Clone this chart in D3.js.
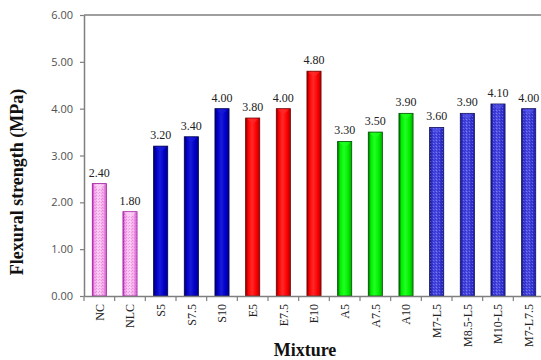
<!DOCTYPE html>
<html>
<head>
<meta charset="utf-8">
<script src="https://cdn.jsdelivr.net/npm/d3@7"></script>
<style>
  html, body { margin: 0; padding: 0; background: #fff; }
  svg { display: block; }
  .serif { font-family: "Liberation Serif", "Times New Roman", serif; }
  .sans { font-family: "Open Sans", sans-serif; }
</style>
</head>
<body>
<svg id="chart" width="541" height="360"></svg>
<script>
// Mixture designations, flexural strength (MPa) and the group each mixture belongs to
const categories = ["NC", "NLC", "S5", "S7.5", "S10", "E5", "E7.5", "E10", "A5", "A7.5", "A10", "M7-L5", "M8.5-L5", "M10-L5", "M7-L7.5"];
const strengths = [2.40, 1.80, 3.20, 3.40, 4.00, 3.80, 4.00, 4.80, 3.30, 3.50, 3.90, 3.60, 3.90, 4.10, 4.00];
const groups = ["ctrl", "ctrl", "S", "S", "S", "E", "E", "E", "A", "A", "A", "M", "M", "M", "M"];
const yTicks = [0, 1, 2, 3, 4, 5, 6];

// Shading per group: edge, body, highlight, and an optional speckle texture
const groupStyle = {
  ctrl: { edge: "#b01ab0", dark: "#d060c8", mid: "#f7a8ec", light: "#fbd0f4", texture: "#e070d8", stroke: "#a020a0" },
  S:    { edge: "#000060", dark: "#00008a", mid: "#0000c8", light: "#1a1ad8", texture: null, stroke: "#000050" },
  E:    { edge: "#800000", dark: "#b00000", mid: "#ff0000", light: "#ff2a2a", texture: null, stroke: "#700000" },
  A:    { edge: "#006000", dark: "#00a800", mid: "#00ee00", light: "#22ff22", texture: null, stroke: "#005000" },
  M:    { edge: "#141470", dark: "#2020a8", mid: "#3a3ad8", light: "#5252e6", texture: "#1c1cb0", stroke: "#101060" }
};

const svg = d3.select("#chart");
const margin = { left: 84, top: 15, bottom: 296, right: 544 };

const x = d3.scaleBand()
  .domain(categories)
  .range([margin.left, margin.right])
  .paddingInner(0.54)
  .paddingOuter(0.27);

const y = d3.scaleLinear()
  .domain([0, 6])
  .range([margin.bottom, margin.top]);

// Gradients and textures
const defs = svg.append("defs");
Object.entries(groupStyle).forEach(([key, s]) => {
  const g = defs.append("linearGradient")
    .attr("id", "grad-" + key)
    .attr("x1", "0%").attr("x2", "100%").attr("y1", "0%").attr("y2", "0%");
  g.append("stop").attr("offset", "0%").attr("stop-color", s.edge);
  g.append("stop").attr("offset", "18%").attr("stop-color", s.mid);
  g.append("stop").attr("offset", "45%").attr("stop-color", s.light);
  g.append("stop").attr("offset", "75%").attr("stop-color", s.mid);
  g.append("stop").attr("offset", "100%").attr("stop-color", s.dark);
  if (s.texture) {
    const p = defs.append("pattern")
      .attr("id", "tex-" + key)
      .attr("width", 3).attr("height", 3)
      .attr("patternUnits", "userSpaceOnUse");
    p.append("rect").attr("x", 0).attr("y", 0).attr("width", 1).attr("height", 1)
      .attr("fill", s.texture).attr("opacity", 0.6);
    p.append("rect").attr("x", 2).attr("y", 1).attr("width", 1).attr("height", 1)
      .attr("fill", s.texture).attr("opacity", 0.45);
    p.append("rect").attr("x", 1).attr("y", 2).attr("width", 1).attr("height", 1)
      .attr("fill", "#ffffff").attr("opacity", 0.25);
  }
});

const rows = categories.map((c, i) => ({ cat: c, val: strengths[i], grp: groups[i] }));

// Bars
const bars = svg.append("g").attr("class", "bars");
bars.selectAll("rect.bar")
  .data(rows)
  .join("rect")
  .attr("class", "bar")
  .attr("x", d => x(d.cat))
  .attr("y", d => y(d.val))
  .attr("width", x.bandwidth())
  .attr("height", d => y(0) - y(d.val))
  .attr("fill", d => `url(#grad-${d.grp})`)
  .attr("stroke", d => groupStyle[d.grp].stroke)
  .attr("stroke-width", 0.8);

bars.selectAll("rect.tex")
  .data(rows.filter(d => groupStyle[d.grp].texture))
  .join("rect")
  .attr("class", "tex")
  .attr("x", d => x(d.cat) + 0.5)
  .attr("y", d => y(d.val) + 0.5)
  .attr("width", x.bandwidth() - 1)
  .attr("height", d => y(0) - y(d.val) - 1)
  .attr("fill", d => `url(#tex-${d.grp})`);

// Small lighter cap at the top of each bar
bars.selectAll("path.cap")
  .data(rows)
  .join("path")
  .attr("class", "cap")
  .attr("d", d => {
    const x0 = x(d.cat) + 1.5, x1 = x(d.cat) + x.bandwidth() - 1.5, yt = y(d.val) + 0.8;
    const xm = (x0 + x1) / 2;
    return `M${x0},${yt} L${x1},${yt} L${xm + 1.5},${yt + 4} L${xm - 1.5},${yt + 4} Z`;
  })
  .attr("fill", d => groupStyle[d.grp].light)
  .attr("opacity", 0.75);

// Value labels
svg.append("g").selectAll("text")
  .data(rows)
  .join("text")
  .attr("class", "serif")
  .attr("x", d => x(d.cat) + x.bandwidth() / 2)
  .attr("y", d => y(d.val) - 7)
  .attr("text-anchor", "middle")
  .style("font-family", "'Liberation Serif', serif")
  .style("font-size", "12px")
  .attr("fill", "#222")
  .text(d => d.val.toFixed(2));

const axisColor = "#7f7f7f";

// Y axis
svg.append("g")
  .attr("transform", `translate(${margin.left},0)`)
  .call(d3.axisLeft(y).tickValues(yTicks).tickFormat(d3.format(".2f")).tickSize(4).tickSizeOuter(0))
  .call(g => g.select(".domain").attr("stroke", axisColor).attr("stroke-width", 1.5))
  .call(g => g.selectAll(".tick line").attr("stroke", axisColor).attr("stroke-width", 1.2))
  .call(g => g.selectAll(".tick text")
    .attr("x", -11)
    .style("font-family", "'Open Sans', sans-serif")
    .style("font-size", "11px")
    .attr("fill", "#505050"));

// Top border of the plot area
svg.append("line")
  .attr("x1", margin.left).attr("x2", margin.right)
  .attr("y1", y(6)).attr("y2", y(6))
  .attr("stroke", axisColor).attr("stroke-width", 1.5);

// X axis: labels at band centres, tick marks at band boundaries
const xAxis = svg.append("g")
  .attr("transform", `translate(0,${y(0)})`)
  .call(d3.axisBottom(x).tickSize(0).tickSizeOuter(0))
  .call(g => g.select(".domain").attr("stroke", axisColor).attr("stroke-width", 1.5))
  .call(g => g.selectAll(".tick text")
    .attr("transform", "rotate(-90)")
    .attr("x", -8)
    .attr("y", 0)
    .attr("dy", "0.35em")
    .attr("text-anchor", "end")
    .style("font-family", "'Liberation Serif', serif")
    .style("font-size", "12px")
    .attr("fill", "#222"));

const step = x.step();
const boundaries = categories.map(c => x(c) - (step - x.bandwidth()) / 2);
xAxis.selectAll("line.bound")
  .data(boundaries)
  .join("line")
  .attr("class", "bound")
  .attr("x1", d => d).attr("x2", d => d)
  .attr("y1", 0).attr("y2", 5)
  .attr("stroke", axisColor).attr("stroke-width", 1.2);

// Axis titles
svg.append("text")
  .attr("x", 305)
  .attr("y", 356)
  .attr("text-anchor", "middle")
  .style("font-family", "'Liberation Serif', serif")
  .style("font-weight", "bold")
  .style("font-size", "18px")
  .attr("fill", "#111")
  .text("Mixture");

svg.append("text")
  .attr("transform", "translate(23,182) rotate(-90)")
  .attr("text-anchor", "middle")
  .style("font-family", "'Liberation Serif', serif")
  .style("font-weight", "bold")
  .style("font-size", "18px")
  .attr("fill", "#111")
  .text("Flexural strength (MPa)");
</script>
</body>
</html>
